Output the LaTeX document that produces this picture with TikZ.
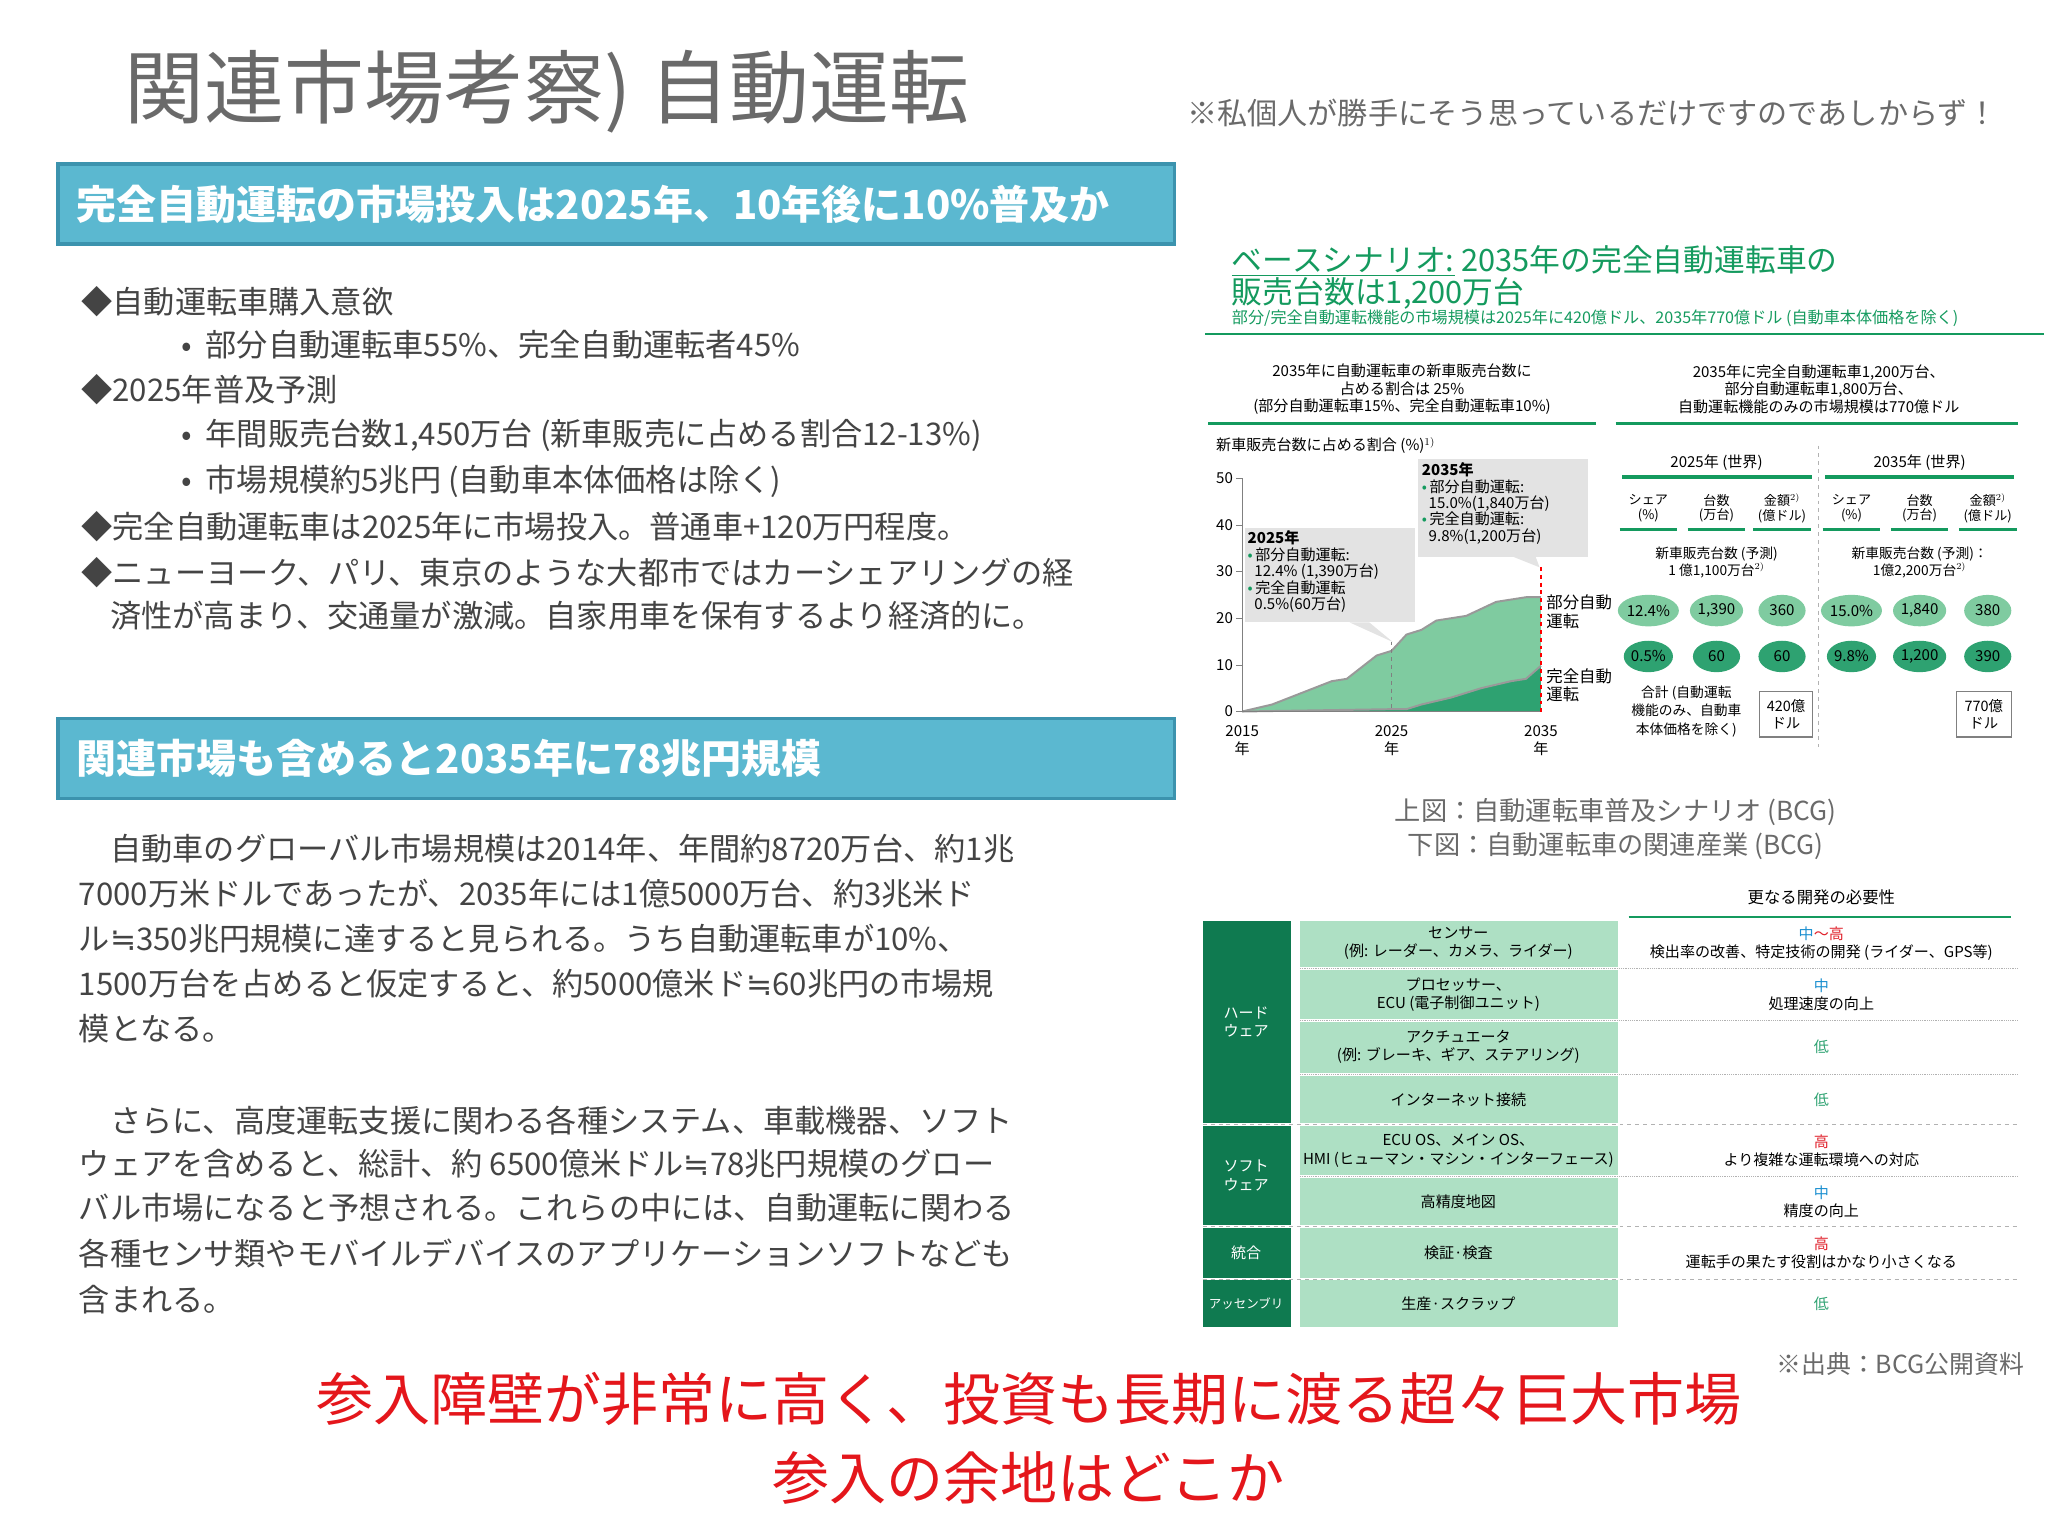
\documentclass[tikz,border=0pt]{standalone}
\usepackage{fontspec}
\setmainfont{Noto Sans CJK JP}
\newfontfamily\djv{DejaVu Sans}
\newcommand{\approxeq}{{\djv ≒}}
\usetikzlibrary{calc,shapes.geometric}
\definecolor{bann}{HTML}{5BB8D0}
\definecolor{bannb}{HTML}{3C93AE}
\definecolor{txt}{HTML}{444444}
\definecolor{ttl}{HTML}{6A6A6A}
\definecolor{gr}{HTML}{149A5E}
\definecolor{lg}{HTML}{7FCBA0}
\definecolor{dg}{HTML}{2EA271}
\definecolor{dk}{HTML}{0F7A50}
\definecolor{lt}{HTML}{AEE0C4}
\definecolor{cb}{HTML}{1B8FD0}
\definecolor{cr}{HTML}{E0202A}
\definecolor{rd}{HTML}{E4161B}
\tikzset{
 banner/.style={draw=bannb,line width=2.5pt,fill=bann,minimum width=852pt,minimum height=61pt,anchor=north west},
 bt/.style={text=white,font=\fontsize{30.5}{33}\selectfont\bfseries,anchor=west,inner sep=0},
 body/.style={text=txt,font=\fontsize{23.8}{26}\selectfont,anchor=west,inner sep=0},
 sm/.style={font=\fontsize{11.5}{13.5}\selectfont,align=center,inner sep=0},
 tb/.style={font=\fontsize{11.5}{14}\selectfont,align=center,inner sep=0},
 circ/.style={ellipse,minimum width=36pt,minimum height=24pt,inner sep=0,font=\fontsize{11.5}{13}\selectfont},
}
\begin{document}
\begin{tikzpicture}[x=1pt,y=-1pt]
\useasboundingbox (0,0) rectangle (1563,1172);
% title
\node[anchor=west,text=ttl,font=\fontsize{61}{63}\selectfont,inner sep=0] (title) at (95,70) {関連市場考察) 自動運転};
\node[anchor=east,text=ttl,font=\fontsize{23}{25}\selectfont,inner sep=0] (note) at (1525,86) {※私個人が勝手にそう思っているだけですのであしからず！};
% banners
\node[banner] (b1) at (43,124) {};
\node[bt] (b1t) at ([xshift=15pt]b1.west) {完全自動運転の市場投入は2025年、10年後に10\%普及か};
\node[banner] (b2) at (43,547) {};
\node[bt] (b2t) at ([xshift=15pt]b2.west) {関連市場も含めると2035年に78兆円規模};
% bullets
\node[body] (l1) at (62,230) {◆自動運転車購入意欲};
\node[body] (l2) at (138,263) {•\ \ 部分自動運転車55\%、完全自動運転者45\%};
\node[body] (l3) at (62,297) {◆2025年普及予測};
\node[body] (l4) at (138,332) {•\ \ 年間販売台数1,450万台 (新車販売に占める割合12-13\%)};
\node[body] (l5) at (138,367) {•\ \ 市場規模約5兆円 (自動車本体価格は除く)};
\node[body] (l6) at (62,402) {◆完全自動運転車は2025年に市場投入。普通車+120万円程度。};
\node[body] (l7) at (62,437) {◆ニューヨーク、パリ、東京のような大都市ではカーシェアリングの経};
\node[body] (l8) at (84,470) {済性が高まり、交通量が激減。自家用車を保有するより経済的に。};
% paragraphs
\node[body] (p1) at (84,648) {自動車のグローバル市場規模は2014年、年間約8720万台、約1兆};
\node[body] (p2) at (60,682) {7000万米ドルであったが、2035年には1億5000万台、約3兆米ド};
\node[body] (p3) at (60,716) {ル\approxeq350兆円規模に達すると見られる。うち自動運転車が10\%、};
\node[body] (p4) at (60,751) {1500万台を占めると仮定すると、約5000億米ド\approxeq60兆円の市場規};
\node[body] (p5) at (60,785) {模となる。};
\node[body] (q1) at (84,855) {さらに、高度運転支援に関わる各種システム、車載機器、ソフト};
\node[body] (q2) at (60,888) {ウェアを含めると、総計、約 6500億米ドル\approxeq78兆円規模のグロー};
\node[body] (q3) at (60,922) {バル市場になると予想される。これらの中には、自動運転に関わる};
\node[body] (q4) at (60,957) {各種センサ類やモバイルデバイスのアプリケーションソフトなども};
\node[body] (q5) at (60,992) {含まれる。};
% red
\node[text=rd,font=\fontsize{43.5}{46}\selectfont,inner sep=0] (r1) at (785,1068) {参入障壁が非常に高く、投資も長期に渡る超々巨大市場};
\node[text=rd,font=\fontsize{43.5}{46}\selectfont,inner sep=0] (r2) at (785,1128) {参入の余地はどこか};
\node[anchor=east,text=ttl,font=\fontsize{19}{20}\selectfont,inner sep=0] (src) at (1545,1041) {※出典：BCG公開資料};
% right chart title
\node[anchor=west,text=gr,font=\fontsize{23.5}{25}\selectfont,inner sep=0] (ct1) at (940,199) {\underline{ベースシナリオ:} 2035年の完全自動運転車の};
\node[anchor=west,text=gr,font=\fontsize{23.5}{25}\selectfont,inner sep=0] (ct2) at (940,224) {販売台数は1,200万台};
\node[anchor=west,text=gr,font=\fontsize{12.3}{13}\selectfont,inner sep=0] (ct3) at (940,243) {部分/完全自動運転機能の市場規模は2025年に420億ドル、2035年770億ドル (自動車本体価格を除く)};
\draw[gr,line width=1.5pt] (920,255) -- (1560,255);
\node[sm] (h1) at (1070,297) {2035年に自動運転車の新車販売台数に\\占める割合は 25\%\\(部分自動運転車15\%、完全自動運転車10\%)};
\node[sm] (h2) at (1388,297) {2035年に完全自動運転車1,200万台、\\部分自動運転車1,800万台、\\自動運転機能のみの市場規模は770億ドル};
\draw[gr,line width=2.5pt] (922,323) -- (1218,323);
\draw[gr,line width=2.5pt] (1233,323) -- (1540,323);
\node[sm,anchor=west] (yl) at (928,340) {新車販売台数に占める割合 (\%)$^{1)}$};
% plot
\begin{scope}[shift={(948,543)},x=11.4pt,y=3.56pt]
\fill[lg] (0,0) -- (2,1.5) -- (4,4) -- (6,6.5) -- (7,7) -- (9,12) -- (10,13) -- (11,16.5) -- (12,17.5) -- (13,19.5) -- (14,20) -- (15,20.5) -- (16,22) -- (17,23.5) -- (19,24.5) -- (20,24.5) -- (20,0) -- cycle;
\draw[gray!80,line width=1.5pt] (0,0) -- (2,1.5) -- (4,4) -- (6,6.5) -- (7,7) -- (9,12) -- (10,13) -- (11,16.5) -- (12,17.5) -- (13,19.5) -- (14,20) -- (15,20.5) -- (16,22) -- (17,23.5) -- (19,24.5) -- (20,24.5);
\fill[dg] (0,0) -- (10,0.5) -- (11,0.5) -- (12,1.5) -- (14,3) -- (16,5) -- (18,6.5) -- (19,7) -- (20,9.8) -- (20,0) -- cycle;
\draw[gray!80,line width=1.5pt] (0,0) -- (10,0.5) -- (11,0.5) -- (12,1.5) -- (14,3) -- (16,5) -- (18,6.5) -- (19,7) -- (20,9.8);
\draw[gray,line width=1pt] (0,50) -- (0,0) -- (20,0);
\foreach \v in {0,10,...,50}{\draw[gray] (-0.4,\v) -- (0,\v); \node[sm,anchor=east] (ax\v) at (-0.6,\v) {\v};}
\draw[gray,dashed,line width=1pt] (10,15) -- (10,0);
\draw[red,dashed,line width=1.3pt] (20,31) -- (20,0);
\node[sm] (x1) at (0,-6.3) {2015\\年};
\node[sm] (x2) at (10,-6.3) {2025\\年};
\node[sm] (x3) at (20,-6.3) {2035\\年};
\end{scope}
% callouts
\fill[gray!22] (950,403) rectangle (1080,475);
\fill[gray!22] (1030,475) -- (1063,490) -- (1045,475) -- cycle;
\node[anchor=north west,font=\fontsize{11.5}{12.5}\selectfont,align=left,inner sep=0] (c1) at (952,405) {\textbf{2025年}\\{\color{gr}•}\,部分自動運転:\\\ \ 12.4\% (1,390万台)\\{\color{gr}•}\,完全自動運転\\\ \ 0.5\%(60万台)};
\fill[gray!22] (1082,350) rectangle (1212,425);
\fill[gray!22] (1155,425) -- (1175,433) -- (1172,425) -- cycle;
\node[anchor=north west,font=\fontsize{11.5}{12.5}\selectfont,align=left,inner sep=0] (c2) at (1085,353) {\textbf{2035年}\\{\color{gr}•}\,部分自動運転:\\\ \ 15.0\%(1,840万台)\\{\color{gr}•}\,完全自動運転:\\\ \ 9.8\%(1,200万台)};
\node[anchor=west,font=\fontsize{12.5}{14}\selectfont,align=left,inner sep=0] (lp) at (1180,467) {部分自動\\運転};
\node[anchor=west,font=\fontsize{12.5}{14}\selectfont,align=left,inner sep=0] (lf) at (1180,523) {完全自動\\運転};
% right table
\draw[gray!60,dashed] (1388,340) -- (1388,570);
\node[sm] (y25) at (1310,353) {2025年 (世界)};
\node[sm] (y35) at (1465,353) {2035年 (世界)};
\draw[gr,line width=2.5pt] (1238,364) -- (1383,364);
\draw[gr,line width=2.5pt] (1393,364) -- (1537,364);
\foreach \x in {1258,1310,1360,1413,1465,1517}{\draw[gr,line width=2.5pt] (\x-22,404) -- (\x+22,404);}
\foreach \x/\n in {1258/a,1413/d}{\node[font=\fontsize{10}{11}\selectfont,align=center,inner sep=0] (sh\n) at (\x,388) {シェア\\(\%)};}
\foreach \x/\n in {1310/b,1465/e}{\node[font=\fontsize{10}{11}\selectfont,align=center,inner sep=0] (ct\n) at (\x,388) {台数\\(万台)};}
\foreach \x/\n in {1360/c,1517/f}{\node[font=\fontsize{10}{11}\selectfont,align=center,inner sep=0] (am\n) at (\x,388) {金額$^{2)}$\\(億ドル)};}
\node[font=\fontsize{10.5}{13}\selectfont,align=center,inner sep=0] (ns1) at (1310,429) {新車販売台数 (予測)\\1 億1,100万台$^{2)}$};
\node[font=\fontsize{10.5}{13}\selectfont,align=center,inner sep=0] (ns2) at (1465,429) {新車販売台数 (予測)：\\1億2,200万台$^{2)}$};
\foreach \x/\t/\n in {1258/12.4\%/a,1310/{1,390}/b,1360/360/c,1413/15.0\%/d,1465/{1,840}/e,1517/380/f}{\node[circ,fill=lg] (ca\n) at (\x,466) {\t};}
\foreach \x/\t/\n in {1258/0.5\%/a,1310/60/b,1360/60/c,1413/9.8\%/d,1465/{1,200}/e,1517/390/f}{\node[circ,fill=dg] (cb\n) at (\x,501) {\t};}
\node[font=\fontsize{10.5}{14}\selectfont,align=center,inner sep=0] (tot) at (1287,543) {合計 (自動運転\\機能のみ、自動車\\本体価格を除く)};
\node[draw=gray,line width=1pt,minimum width=40pt,minimum height=35pt,font=\fontsize{11}{13}\selectfont,align=center,inner sep=0] (v1) at (1363,545) {420億\\ドル};
\node[draw=gray,line width=1pt,minimum width=42pt,minimum height=35pt,font=\fontsize{11}{13}\selectfont,align=center,inner sep=0] (v2) at (1514,545) {770億\\ドル};
% captions
\node[text=ttl,font=\fontsize{20}{22}\selectfont,inner sep=0] (cap1) at (1233,620) {上図：自動運転車普及シナリオ (BCG)};
\node[text=ttl,font=\fontsize{20}{22}\selectfont,inner sep=0] (cap2) at (1233,646) {下図：自動運転車の関連産業 (BCG)};
% bottom table
\node[tb,font=\fontsize{12.5}{14}\selectfont] (need) at (1390,685) {更なる開発の必要性};
\draw[gr,line width=1.5pt] (1243,700) -- (1535,700);
\fill[dk] (918,703) rectangle (985,857);
\fill[dk] (918,859) rectangle (985,935);
\fill[dk] (918,937) rectangle (985,975);
\fill[dk] (918,977) rectangle (985,1013);
\foreach \a/\b in {703/738,740/778,780/819,821/857,859/897,899/935,937/975,977/1013}{\fill[lt] (992,\a) rectangle (1235,\b);}
\foreach \yy in {739,779,820,898}{\draw[gray!60,densely dotted] (992,\yy) -- (1540,\yy);}
\foreach \yy in {858,936,976}{\draw[gray!60,dashed] (918,\yy) -- (1540,\yy);}
\node[tb,text=white] (g1) at (951,780) {ハード\\ウェア};
\node[tb,text=white] (g2) at (951,897) {ソフト\\ウェア};
\node[tb,text=white] (g3) at (951,956) {統合};
\node[tb,text=white,font=\fontsize{9.5}{11}\selectfont] (g4) at (951,995) {アッセンブリ};
\node[tb] (r1a) at (1113,720) {センサー\\(例: レーダー、カメラ、ライダー)};
\node[tb] (r2a) at (1113,759) {プロセッサー、\\ECU (電子制御ユニット)};
\node[tb] (r3a) at (1113,799) {アクチュエータ\\(例: ブレーキ、ギア、ステアリング)};
\node[tb] (r4a) at (1113,839) {インターネット接続};
\node[tb] (r5a) at (1113,878) {ECU OS、メイン OS、\\HMI (ヒューマン・マシン・インターフェース)};
\node[tb] (r6a) at (1113,917) {高精度地図};
\node[tb] (r7a) at (1113,956) {検証·検査};
\node[tb] (r8a) at (1113,995) {生産·スクラップ};
\node[tb] (r1b) at (1390,720) {{\color{cb}中}{\color{cr}～高}\\検出率の改善、特定技術の開発 (ライダー、GPS等)};
\node[tb] (r2b) at (1390,759) {{\color{cb}中}\\処理速度の向上};
\node[tb,text=dg] (r3b) at (1390,799) {低};
\node[tb,text=dg] (r4b) at (1390,839) {低};
\node[tb] (r5b) at (1390,878) {{\color{cr}高}\\より複雑な運転環境への対応};
\node[tb] (r6b) at (1390,917) {{\color{cb}中}\\精度の向上};
\node[tb] (r7b) at (1390,956) {{\color{cr}高}\\運転手の果たす役割はかなり小さくなる};
\node[tb,text=dg] (r8b) at (1390,995) {低};
\end{tikzpicture}
\end{document}
